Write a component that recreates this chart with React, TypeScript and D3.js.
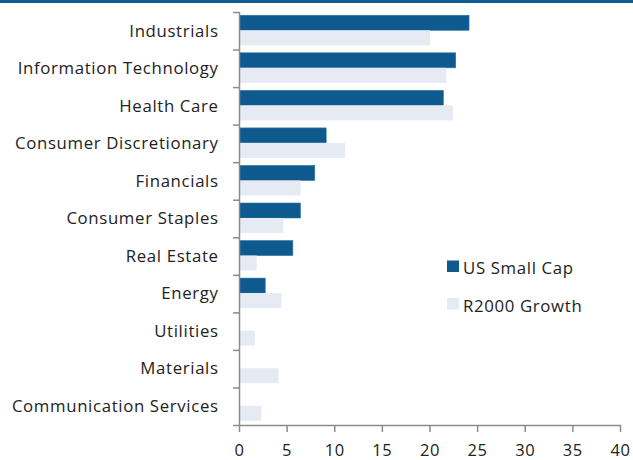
import React from "react";
import * as d3 from "d3";

const categories = [
  "Industrials",
  "Information Technology",
  "Health Care",
  "Consumer Discretionary",
  "Financials",
  "Consumer Staples",
  "Real Estate",
  "Energy",
  "Utilities",
  "Materials",
  "Communication Services",
];
const usSmallCap = [24.1, 22.7, 21.4, 9.1, 7.9, 6.4, 5.6, 2.7, 0, 0, 0];
const r2000Growth = [20.0, 21.7, 22.4, 11.1, 6.4, 4.6, 1.8, 4.4, 1.6, 4.1, 2.3];
const seriesNames = ["US Small Cap", "R2000 Growth"];
const xTicks = [0, 5, 10, 15, 20, 25, 30, 35, 40];

const W = 633;
const H = 460;
const DARK = "#0E5A8F";
const LIGHT = "#E6EBF3";
const AXIS = "#8C8C8C";
const FONT = "'Open Sans', sans-serif";
const LS = 0.65;

export default function App() {
  const x = d3.scaleLinear().domain([0, 40]).range([239.5, 620.5]);
  const y = d3.scaleBand().domain(categories).range([12, 425]).paddingInner(0).paddingOuter(0);
  const bw = y.bandwidth();
  const barH = 15;
  const off = (bw - 2 * barH) / 2 - 0.5;
  const series = [usSmallCap, r2000Growth];
  const colors = [DARK, LIGHT];

  return (
    <svg
      width={W}
      height={H}
      style={{ position: "absolute", left: 0, top: 0, display: "block", background: "#fff" }}
      fontFamily={FONT}
    >
      <rect x={0} y={0} width={W} height={3} fill="#0F5C94" />
      {series.map((vals, si) =>
        categories.map((c, i) => {
          const v = vals[i];
          if (!v) return null;
          const y0 = (y(c) as number) + off + si * barH;
          return (
            <rect
              key={`${si}-${i}`}
              x={x(0)}
              y={y0}
              width={x(v) - x(0)}
              height={barH}
              fill={colors[si]}
              stroke={si === 0 ? "#2E74A8" : "none"}
              strokeWidth={si === 0 ? 0.6 : 0}
            />
          );
        })
      )}
      {/* y axis */}
      <line x1={239.5} x2={239.5} y1={12} y2={425.5} stroke={AXIS} strokeWidth={1.5} />
      {[...categories.map((c) => y(c) as number), 425].map((t, i) => (
        <line key={i} x1={233} x2={239.5} y1={t + 0.5} y2={t + 0.5} stroke={AXIS} strokeWidth={1.5} />
      ))}
      {categories.map((c) => (
        <text
          key={c}
          x={218 + LS}
          y={(y(c) as number) + bw / 2 + 5.8}
          textAnchor="end"
          fontSize={16.8}
          letterSpacing={LS}
          fill="#222"
        >
          {c}
        </text>
      ))}
      {/* x axis */}
      <line x1={239.5} x2={621} y1={425.5} y2={425.5} stroke={AXIS} strokeWidth={1.5} />
      {xTicks.map((t) => (
        <g key={t}>
          <line x1={x(t)} x2={x(t)} y1={425.5} y2={432} stroke={AXIS} strokeWidth={1.5} />
          <text x={x(t)} y={455.5} textAnchor="middle" fontSize={16.5} letterSpacing={0.6} fill="#222">
            {t}
          </text>
        </g>
      ))}
      {/* legend */}
      {seriesNames.map((n, i) => (
        <g key={n}>
          <rect x={447} y={260.5 + i * 37.5} width={12} height={11.5} fill={colors[i]} />
          <text x={463} y={273.5 + i * 38.5} fontSize={16.8} letterSpacing={LS} fill="#222">
            {n}
          </text>
        </g>
      ))}
    </svg>
  );
}
